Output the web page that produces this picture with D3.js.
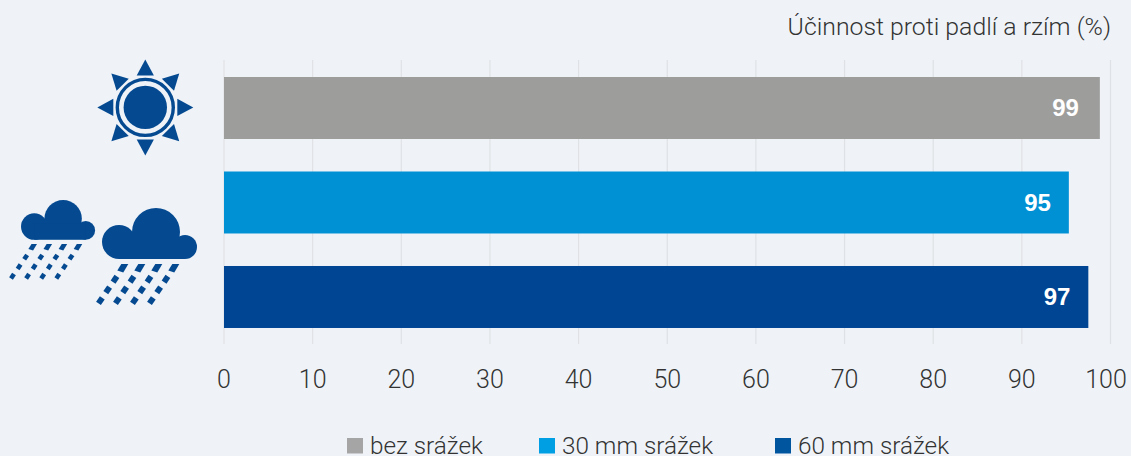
<!DOCTYPE html>
<html><head><meta charset="utf-8">
<script src="https://cdnjs.cloudflare.com/ajax/libs/d3/7.8.5/d3.min.js"></script>
<style>
html,body{margin:0;padding:0;background:#eff3f8;overflow:hidden}
svg{display:block}
text{font-family:"Roboto","Liberation Sans",sans-serif;font-weight:300;fill:#333}
</style></head><body>
<script>
const categories = ["bez srážek","30 mm srážek","60 mm srážek"];
const barValues = [98.8,95.3,97.5];
const barLabels = ["99","95","97"];
const colors = ["#9d9d9c","#0090d4","#004494"];
const legendColors = ["#a5a5a5","#009ee3","#00559f"];
const ticks = [0,10,20,30,40,50,60,70,80,90,100];
const axisTitle = "Účinnost proti padlí a rzím (%)";

const W=1131,H=456;
const svg=d3.select("body").append("svg").attr("width",W).attr("height",H);
const x=d3.scaleLinear().domain([0,100]).range([224,1110.5]);
const y=d3.scaleBand().domain(categories).range([60.93,344.05]).paddingInner(0.344).paddingOuter(0.17);

svg.append("g").selectAll("line").data(ticks).join("line")
  .attr("x1",d=>x(d)).attr("x2",d=>x(d)).attr("y1",60).attr("y2",344)
  .attr("stroke","#dfe1e4").attr("stroke-width",1.2);

svg.append("g").selectAll("rect").data(categories).join("rect")
  .attr("x",x(0)).attr("y",d=>y(d)).attr("height",y.bandwidth())
  .attr("width",(d,i)=>x(barValues[i])-x(0)).attr("fill",(d,i)=>colors[i]);

svg.append("g").selectAll("text").data(categories).join("text")
  .attr("x",(d,i)=>x(barValues[i])-(i===0?21:18)).attr("y",d=>y(d)+y.bandwidth()/2+8.5)
  .attr("text-anchor","end")
  .style("font-family","'Liberation Sans',sans-serif").style("font-weight",700).style("font-size","24px").style("fill","#fff")
  .text((d,i)=>barLabels[i]);

svg.append("g").selectAll("text").data(ticks).join("text")
  .attr("x",d=>x(d)-(d===100?4.5:0)).attr("y",388).attr("text-anchor","middle")
  .style("font-size","25px").text(d=>d);

svg.append("text").attr("x",1111).attr("y",35).attr("text-anchor","end")
  .style("font-size","24.8px").text(axisTitle);

const lx=[347,539,775];
const lg=svg.append("g").selectAll("g").data(categories).join("g").attr("transform",(d,i)=>`translate(${lx[i]},438)`);
lg.append("rect").attr("width",16).attr("height",15.5).attr("fill",(d,i)=>legendColors[i]);
lg.append("text").attr("x",23).attr("y",15.5).style("font-size","24.3px").text(d=>d);

// icons
const ic="#054a91";
const sun=svg.append("g").attr("transform","translate(145.3,107.4)").attr("fill",ic);
sun.append("circle").attr("r",21.7);
sun.append("circle").attr("r",28).attr("fill","none").attr("stroke",ic).attr("stroke-width",3.4);
d3.range(8).forEach(i=>{
  sun.append("path").attr("d","M-8.6,-32 L0,-48 L8.6,-32 Z").attr("transform",`rotate(${i*45})`);
});
function cloud(tx,ty,s,rx,ry,col,dx,dy){
  const g=svg.append("g").attr("transform",`translate(${tx},${ty}) scale(${s})`).attr("fill",ic);
  g.append("circle").attr("cx",17).attr("cy",34).attr("r",17);
  g.append("circle").attr("cx",54).attr("cy",24).attr("r",24);
  g.append("circle").attr("cx",83).attr("cy",39).attr("r",12);
  g.append("rect").attr("x",17).attr("y",30).attr("width",66).attr("height",21);
  const a=svg.append("g").attr("fill",ic);
  for(let c=0;c<4;c++){ for(let r=0;r<4;r++){
    const px=rx+c*col-r*dx, py=ry+r*dy;
    if(r===0){
      a.append("path").attr("d",`M${px-1*s},${py-4.5*s} L${px+6*s},${py-4.5*s} L${px+1*s},${py+4*s} L${px-5*s},${py+2*s} Z`);
    } else {
      a.append("rect").attr("x",-2.9*s).attr("y",-3.4*s).attr("width",5.8*s).attr("height",6.8*s)
        .attr("transform",`translate(${px},${py}) rotate(34)`);
    }
  }}
}
cloud(21,200,0.78,32.3,247.5,15.1,6.6,9.6);
cloud(102,208,1,122.3,268.5,17,7.3,10.7);
</script>
</body></html>
